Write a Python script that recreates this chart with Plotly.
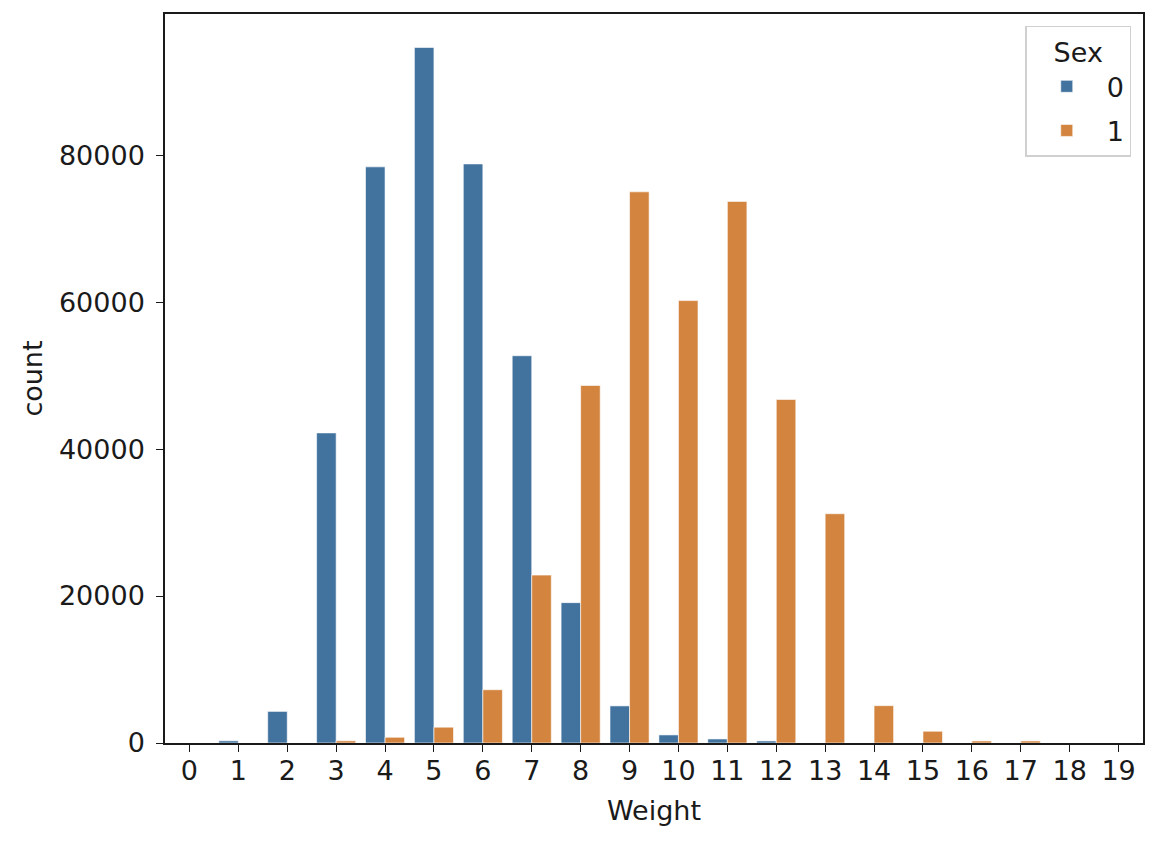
import plotly.graph_objects as go

weights = [str(i) for i in range(20)]
sex0 = [0, 300, 4300, 42200, 78400, 94650, 78800, 52700, 19100, 5050, 1100, 550, 280, 0, 0, 0, 0, 0, 0, 0]
sex1 = [0, 0, 0, 300, 780, 2150, 7250, 22850, 48650, 75000, 60200, 73700, 46750, 31200, 5080, 1600, 280, 280, 0, 0]
series_names = ["0", "1"]
colors = ["#42739f", "#d3843f"]

fig = go.Figure()
for name, vals, c in zip(series_names, [sex0, sex1], colors):
    fig.add_trace(go.Bar(
        x=weights, y=vals, name=name, legendgroup=name,
        marker=dict(color=c, line=dict(color="rgba(255,255,255,0.6)", width=1)),
    ))

font = dict(family="DejaVu Sans", size=27, color="#1a1a1a")
fig.update_layout(
    width=1158, height=844,
    margin=dict(l=165, r=15, t=14, b=101),
    paper_bgcolor="white", plot_bgcolor="white",
    barmode="group", bargap=0.2, bargroupgap=0,
    font=font,
    showlegend=True,
    legend=dict(
        title=dict(text="Sex", side="top center", font=font),
        x=0.988, y=0.984, xanchor="right", yanchor="top",
        bgcolor="rgba(255,255,255,0.8)", bordercolor="#d0d0d0", borderwidth=1.5,
        font=font, itemwidth=70, tracegroupgap=6,
    ),
    xaxis=dict(
        title=dict(text="Weight", font=font, standoff=16),
        type="category", range=[-0.5, 19.5],
        showline=True, linecolor="#1a1a1a", linewidth=1.5, mirror=True,
        ticks="outside", ticklen=7, tickwidth=1.3, tickcolor="#1a1a1a",
        showgrid=False, tickfont=font, ticklabelstandoff=-4,
    ),
    yaxis=dict(
        title=dict(text="count", font=font, standoff=8),
        range=[0, 99200], tickvals=[0, 20000, 40000, 60000, 80000], tickformat="d",
        showline=True, linecolor="#1a1a1a", linewidth=1.5, mirror=True,
        ticks="outside", ticklen=7, tickwidth=1.3, tickcolor="#1a1a1a",
        showgrid=False, zeroline=False, tickfont=font, ticklabelstandoff=6,
    ),
)

fig.write_html("out.html")
